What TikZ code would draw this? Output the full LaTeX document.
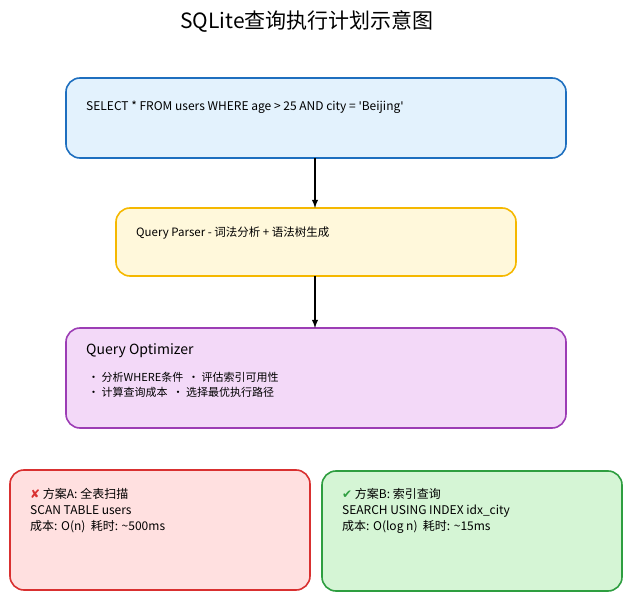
\documentclass[tikz,border=0pt]{standalone}
\usepackage{fontspec}
\setmainfont{Noto Sans CJK SC}
\newfontfamily\symfont{DejaVu Sans}
\usetikzlibrary{positioning}
\definecolor{sqlfill}{HTML}{E3F2FD}\definecolor{sqldraw}{HTML}{1E6FBF}
\definecolor{parfill}{HTML}{FFF8DB}\definecolor{pardraw}{HTML}{F5B800}
\definecolor{optfill}{HTML}{F3D9F8}\definecolor{optdraw}{HTML}{9C3DB5}
\definecolor{afill}{HTML}{FFE0E0}\definecolor{adraw}{HTML}{D93030}
\definecolor{bfill}{HTML}{D5F5D5}\definecolor{bdraw}{HTML}{2E9E40}
\tikzset{
  box/.style={rounded corners=14pt, line width=1.6pt},
  lbl/.style={anchor=north west, align=left, inner sep=0pt, font=\fontsize{12}{15}\selectfont},
  flow/.style={-latex, line width=1.8pt},
}
\begin{document}
\begin{tikzpicture}[x=1pt, y=-1pt]
		\useasboundingbox (0,0) rectangle (632,601);
		\node (title) at (307,22) {\fontsize{21}{24}\selectfont SQLite查询执行计划示意图};

		\draw[box, draw=sqldraw, fill=sqlfill] (66,78) rectangle (566,158);
		\node[lbl] (sql) at (86,101) {SELECT * FROM users WHERE age > 25 AND city = {\symfont\textquotesingle}Beijing{\symfont\textquotesingle}};

		\draw[box, draw=pardraw, fill=parfill] (116,208) rectangle (516,276);
		\node[lbl, font=\fontsize{11.5}{15}\selectfont] (parser) at (136,227) {Query Parser - 词法分析 + 语法树生成};

		\draw[box, draw=optdraw, fill=optfill] (66,328) rectangle (566,428);
		\node[lbl, font=\fontsize{14}{17}\selectfont] (opt) at (86,343) {Query Optimizer};
		\node[lbl, font=\fontsize{11}{15}\selectfont] (optlist) at (88,372)
			{• 分析WHERE条件 \ • 评估索引可用性\\• 计算查询成本 \ • 选择最优执行路径};

		\draw[box, draw=adraw, fill=afill] (10,470) rectangle (310,590);
		\node[lbl, font=\fontsize{12}{16}\selectfont] (planA) at (30,488)
			{{\symfont\color{adraw}✘} 方案A: 全表扫描\\SCAN TABLE users\\成本: O(n) \ 耗时: \textasciitilde500ms};

		\draw[box, draw=bdraw, fill=bfill] (322,471) rectangle (622,591);
		\node[lbl, font=\fontsize{12}{16}\selectfont] (planB) at (342,488)
			{{\symfont\color{bdraw}✔} 方案B: 索引查询\\SEARCH USING INDEX idx\_city\\成本: O(log n) \ 耗时: \textasciitilde15ms};

		\coordinate (a1) at (315,158);
		\coordinate (a2) at (315,208);
		\coordinate (b1) at (315,276);
		\coordinate (b2) at (315,328);
		\draw[flow] (a1) -- (a2);
		\draw[flow] (b1) -- (b2);
\end{tikzpicture}
\end{document}
